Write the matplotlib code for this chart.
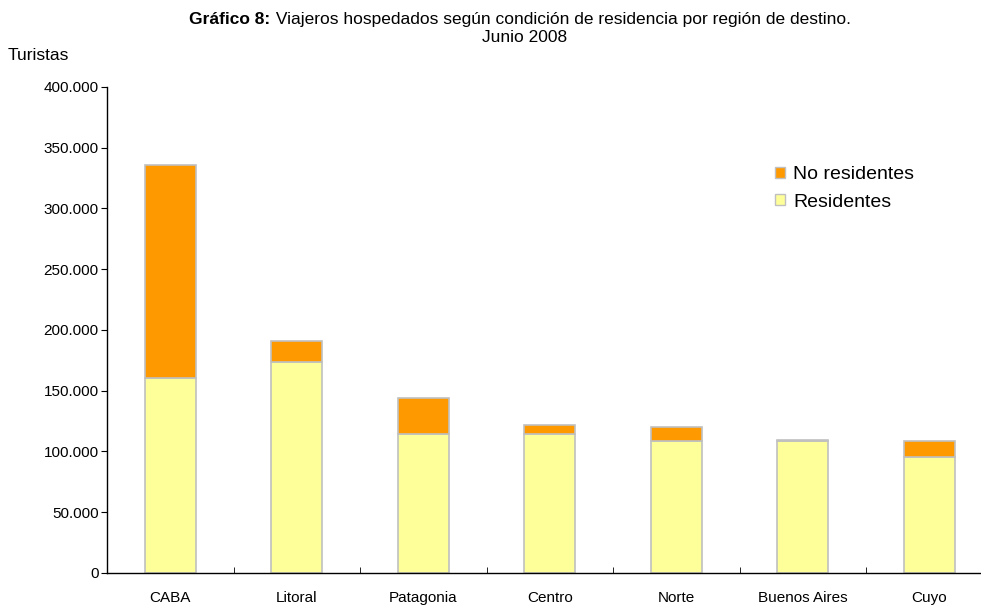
import matplotlib
matplotlib.use("Agg")
import matplotlib.pyplot as plt
from matplotlib import font_manager
from matplotlib.patches import Patch
import numpy as np

categories = ["CABA", "Litoral", "Patagonia", "Centro", "Norte", "Buenos Aires", "Cuyo"]
residentes = [160700, 173900, 114600, 114700, 108600, 108600, 95500]
no_residentes = [175100, 17300, 29200, 7100, 11600, 1100, 12900]
yticks = [0, 50000, 100000, 150000, 200000, 250000, 300000, 350000, 400000]
ytick_labels = ["0", "50.000", "100.000", "150.000", "200.000", "250.000", "300.000", "350.000", "400.000"]

names = {f.name for f in font_manager.fontManager.ttflist}
fam = "Liberation Sans Narrow" if "Liberation Sans Narrow" in names else "Liberation Sans"
plt.rcParams["font.family"] = [fam, "DejaVu Sans"]

W, H = 981, 606
fig = plt.figure(figsize=(W / 100, H / 100), dpi=100)
x0, x1 = 107, 992.5
y0, y1 = 573, 87
ax = fig.add_axes([x0 / W, (H - y0) / H, (x1 - x0) / W, (y0 - y1) / H])

x = np.arange(len(categories))
ax.bar(x, residentes, width=0.4, color="#FFFF99", edgecolor="#C0C0C0", linewidth=1.2, zorder=2)
ax.bar(x, no_residentes, width=0.4, bottom=residentes, color="#FF9900", edgecolor="#C0C0C0", linewidth=1.2, zorder=2)

ax.set_xlim(-0.5, len(categories) - 0.5)
ax.set_ylim(0, 400000)
ax.set_yticks(yticks)
ax.set_yticklabels(ytick_labels, fontsize=11)
ax.set_xticks(x)
ax.set_xticklabels(categories, fontsize=11)
ax.set_xticks(np.arange(len(categories) + 1) - 0.5, minor=True)
ax.tick_params(axis="x", which="major", length=0, pad=13)
ax.tick_params(axis="x", which="minor", length=4, direction="in", color="black")
ax.tick_params(axis="y", length=4, direction="out", pad=2)
for s in ["top", "right"]:
    ax.spines[s].set_visible(False)
ax.spines["left"].set_linewidth(1)
ax.spines["bottom"].set_linewidth(1)

handles = [Patch(facecolor="#FF9900", edgecolor="#C0C0C0"), Patch(facecolor="#FFFF99", edgecolor="#C0C0C0")]
fig.legend(handles, ["No residentes", "Residentes"], loc="upper left",
           bbox_to_anchor=(775 / W, 1 - 166 / H), frameon=False, fontsize=14,
           handlelength=0.5, handleheight=0.5, handletextpad=0.45, labelspacing=0.55,
           borderaxespad=0, borderpad=0)

# Title with bold prefix
fig.canvas.draw()
r = fig.canvas.get_renderer()
t1 = fig.text(0, 0, "Gráfico 8:", fontsize=12.5, fontweight="bold")
t2 = fig.text(0, 0, " Viajeros hospedados según condición de residencia por región de destino.", fontsize=12.5)
w1 = t1.get_window_extent(r).width
w2 = t2.get_window_extent(r).width
cx = 520
start = cx - (w1 + w2) / 2
ty = H - 24
t1.set_position((start / W, ty / H))
t2.set_position(((start + w1) / W, ty / H))
fig.text(525 / W, (H - 37) / H, "Junio 2008", fontsize=12.5, ha="center", va="center")
fig.text(8 / W, (H - 55) / H, "Turistas", fontsize=12.5, ha="left", va="center")

fig.savefig("out.png", dpi=100)
